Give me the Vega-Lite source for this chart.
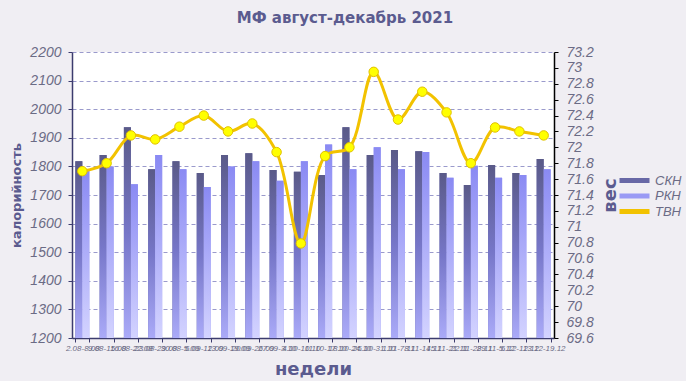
{
  "$schema": "https://vega.github.io/schema/vega-lite/v6.json",
  "autosize": "none",
  "width": 482,
  "height": 286,
  "padding": {"left": 72, "top": 52, "right": 132, "bottom": 43},
  "background": "#f0eef3",
  "config": {"view": {"fill": "white", "stroke": null}, "font": "DejaVu Sans"},
  "title": {"text": "МФ август-декабрь 2021", "font": "DejaVu Sans", "fontSize": 15, "fontWeight": "bold", "color": "#5b5b8f", "anchor": "middle", "frame": "group", "offset": 19, "dx": 32},
  "datasets": {
    "bars": [
      {"week": "2.08-8.08", "series": "СКН", "value": 1818}, {"week": "2.08-8.08", "series": "РКН", "value": 1786},
      {"week": "9.08-15.08", "series": "СКН", "value": 1840}, {"week": "9.08-15.08", "series": "РКН", "value": 1800},
      {"week": "16.08-22.08", "series": "СКН", "value": 1937}, {"week": "16.08-22.08", "series": "РКН", "value": 1738},
      {"week": "23.08-29.08", "series": "СКН", "value": 1790}, {"week": "23.08-29.08", "series": "РКН", "value": 1840},
      {"week": "30.08-5.09", "series": "СКН", "value": 1818}, {"week": "30.08-5.09", "series": "РКН", "value": 1790},
      {"week": "6.09-12.09", "series": "СКН", "value": 1777}, {"week": "6.09-12.09", "series": "РКН", "value": 1728},
      {"week": "13.09-19.09", "series": "СКН", "value": 1840}, {"week": "13.09-19.09", "series": "РКН", "value": 1800},
      {"week": "20.09-26.09", "series": "СКН", "value": 1846}, {"week": "20.09-26.09", "series": "РКН", "value": 1818},
      {"week": "27.09-3.10", "series": "СКН", "value": 1787}, {"week": "27.09-3.10", "series": "РКН", "value": 1750},
      {"week": "4.10-10.10", "series": "СКН", "value": 1781}, {"week": "4.10-10.10", "series": "РКН", "value": 1818},
      {"week": "11.10-17.10", "series": "СКН", "value": 1770}, {"week": "11.10-17.10", "series": "РКН", "value": 1877},
      {"week": "18.10-24.10", "series": "СКН", "value": 1937}, {"week": "18.10-24.10", "series": "РКН", "value": 1790},
      {"week": "25.10-31.10", "series": "СКН", "value": 1840}, {"week": "25.10-31.10", "series": "РКН", "value": 1867},
      {"week": "1.11-7.11", "series": "СКН", "value": 1857}, {"week": "1.11-7.11", "series": "РКН", "value": 1790},
      {"week": "8.11-14.11", "series": "СКН", "value": 1853}, {"week": "8.11-14.11", "series": "РКН", "value": 1850},
      {"week": "15.11-21.11", "series": "СКН", "value": 1777}, {"week": "15.11-21.11", "series": "РКН", "value": 1760},
      {"week": "22.11-28.11", "series": "СКН", "value": 1735}, {"week": "22.11-28.11", "series": "РКН", "value": 1802},
      {"week": "29.11-5.12", "series": "СКН", "value": 1805}, {"week": "29.11-5.12", "series": "РКН", "value": 1760},
      {"week": "6.12-12.12", "series": "СКН", "value": 1777}, {"week": "6.12-12.12", "series": "РКН", "value": 1770},
      {"week": "13.12-19.12", "series": "СКН", "value": 1826}, {"week": "13.12-19.12", "series": "РКН", "value": 1790}
    ],
    "weight": [
      {"week": "2.08-8.08", "tvn": 71.70},
      {"week": "9.08-15.08", "tvn": 71.80},
      {"week": "16.08-22.08", "tvn": 72.15},
      {"week": "23.08-29.08", "tvn": 72.10},
      {"week": "30.08-5.09", "tvn": 72.26},
      {"week": "6.09-12.09", "tvn": 72.40},
      {"week": "13.09-19.09", "tvn": 72.20},
      {"week": "20.09-26.09", "tvn": 72.30},
      {"week": "27.09-3.10", "tvn": 71.94},
      {"week": "4.10-10.10", "tvn": 70.79},
      {"week": "11.10-17.10", "tvn": 71.89},
      {"week": "18.10-24.10", "tvn": 72.00},
      {"week": "25.10-31.10", "tvn": 72.95},
      {"week": "1.11-7.11", "tvn": 72.35},
      {"week": "8.11-14.11", "tvn": 72.70},
      {"week": "15.11-21.11", "tvn": 72.44},
      {"week": "22.11-28.11", "tvn": 71.80},
      {"week": "29.11-5.12", "tvn": 72.25},
      {"week": "6.12-12.12", "tvn": 72.20},
      {"week": "13.12-19.12", "tvn": 72.15}
    ]
  },
  "layer": [
    {
      "data": {"name": "bars"},
      "layer": [
        {
          "mark": {"type": "bar"},
          "encoding": {
            "color": {
              "field": "series", "type": "nominal",
              "scale": {"domain": ["СКН", "РКН", "ТВН"], "range": ["#6868a6", "#9a9af4", "#f2c200"]},
              "legend": {"title": null, "orient": "none", "legendX": 556, "legendY": 122, "padding": 0, "offset": 0,
                         "symbolType": "M-3,-0.5H3V0.5H-3Z", "symbolSize": 100, "symbolStrokeWidth": 0, "symbolOpacity": 1,
                         "labelFont": "Liberation Sans", "labelFontStyle": "italic", "labelFontSize": 13, "labelColor": "#6b6b85", "labelOffset": 14, "rowPadding": 1.5}
            }
          }
        },
        {
          "mark": {"type": "bar"},
          "encoding": {
            "fill": {
              "condition": {"test": "datum.series === 'СКН'", "value": {"gradient": "linear", "x1": 0, "y1": 0, "x2": 0, "y2": 1, "stops": [{"offset": 0, "color": "#5a5a88"}, {"offset": 0.5, "color": "#7676c8"}, {"offset": 1, "color": "#aaaaf8"}]}},
              "value": {"gradient": "linear", "x1": 0, "y1": 0, "x2": 0, "y2": 1, "stops": [{"offset": 0, "color": "#8a8af3"}, {"offset": 1, "color": "#d3d3ff"}]}
            }
          }
        }
      ],
      "encoding": {
        "x": {
          "field": "week", "type": "nominal", "sort": null,
          "scale": {"paddingInner": 0.423, "paddingOuter": 0.137},
          "axis": {"title": "недели", "titleFont": "DejaVu Sans", "titleFontSize": 18, "titleFontWeight": "bold", "titleColor": "#5b5b8f", "titlePadding": 8,
                   "labelAngle": 0, "labelFont": "Liberation Sans", "labelFontStyle": "italic", "labelFontSize": 8, "labelColor": "#6b6b85", "labelLimit": 0, "labelOverlap": false, "labelPadding": 2,
                   "tickBand": "extent", "tickSize": 4, "tickColor": "#3c3c6e", "domainColor": "#3c3c6e", "domainWidth": 1.5, "grid": false}
        },
        "xOffset": {"field": "series", "type": "nominal", "sort": ["СКН", "РКН"], "scale": {"paddingInner": 0, "paddingOuter": 0}},
        "y": {
          "field": "value", "type": "quantitative",
          "scale": {"domain": [1200, 2200], "nice": false, "zero": false},
          "axis": {"title": "калорийность", "titleFont": "DejaVu Sans", "titleFontSize": 13, "titleFontWeight": "bold", "titleColor": "#5b5b8f", "titlePadding": 6,
                   "values": [1200, 1300, 1400, 1500, 1600, 1700, 1800, 1900, 2000, 2100, 2200],
                   "format": "d",
                   "labelFont": "Liberation Sans", "labelFontStyle": "italic", "labelFontSize": 14, "labelColor": "#6b6b85", "labelPadding": 7,
                   "grid": true, "gridDash": [4, 3], "gridColor": "#9a9acc", "gridWidth": 1,
                   "tickSize": 4, "tickColor": "#3c3c6e", "domainColor": "#3c3c6e", "domainWidth": 1.5}
        },
        "y2": {"datum": 1200}
      }
    },
    {
      "data": {"name": "weight"},
      "encoding": {
        "x": {"field": "week", "type": "nominal", "sort": null},
        "y": {
          "field": "tvn", "type": "quantitative",
          "scale": {"domain": [69.6, 73.2], "nice": false, "zero": false},
          "axis": {"orient": "right", "title": "вес", "titleFont": "DejaVu Sans", "titleFontSize": 18, "titleFontWeight": "bold", "titleColor": "#5b5b8f", "titleAngle": 270, "titlePadding": 26,
                   "values": [69.6, 69.8, 70, 70.2, 70.4, 70.6, 70.8, 71, 71.2, 71.4, 71.6, 71.8, 72, 72.2, 72.4, 72.6, 72.8, 73, 73.2],
                   "format": ".4~g", "labelOverlap": false,
                   "labelFont": "Liberation Sans", "labelFontStyle": "italic", "labelFontSize": 14, "labelColor": "#6b6b85", "labelPadding": 8,
                   "grid": false, "tickSize": 4, "tickColor": "#000000", "domainColor": "#000000", "domainWidth": 1.5}
        }
      },
      "layer": [
        {
          "mark": {"type": "line", "interpolate": "catmull-rom", "strokeWidth": 3},
          "encoding": {"color": {"datum": "ТВН"}}
        },
        {
          "mark": {"type": "point", "filled": true, "fill": "#ffff00", "stroke": "#e0c000", "strokeWidth": 1, "size": 90, "opacity": 1},
          "encoding": {}
        }
      ]
    }
  ],
  "resolve": {"scale": {"y": "independent"}}
}
